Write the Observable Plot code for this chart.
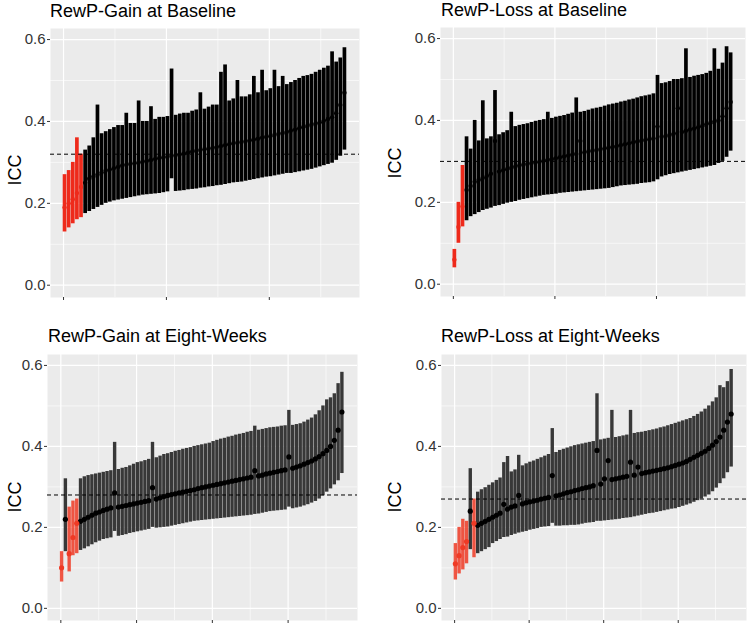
<!DOCTYPE html>
<html><head><meta charset="utf-8">
<script src="https://cdn.jsdelivr.net/npm/d3@7"></script>
<script src="https://cdn.jsdelivr.net/npm/@observablehq/plot@0.6"></script>
<style>
body{margin:0;background:#fff;font-family:"Liberation Sans",Arial,sans-serif;}
#wrap{position:relative;width:750px;height:625px;overflow:hidden;background:#fff;}
.title{position:absolute;font-size:18px;color:#000;white-space:nowrap;line-height:18px;}
.ylab{position:absolute;font-size:18px;line-height:18px;color:#000;transform:translate(-50%,-50%) rotate(-90deg);white-space:nowrap;}
.panel{position:absolute;}
</style></head><body><div id="wrap"></div>
<script>
const titles = ["RewP-Gain at Baseline","RewP-Loss at Baseline","RewP-Gain at Eight-Weeks","RewP-Loss at Eight-Weeks"];
const thresholds = [0.32, 0.30, 0.28, 0.27];
const yTicks = [0, 0.2, 0.4, 0.6];
const yMinor = [0.1, 0.3, 0.5];

const gbIcc=[0.19,0.20,0.21,0.225,0.24, 0.25,0.26,0.265,0.27,0.275, 0.28,0.283,0.286,0.289,0.292, 0.294,0.296,0.298,0.30,0.302, 0.304,0.306,0.308,0.31,0.312, 0.314,0.316,0.318,0.32,0.322, 0.324,0.326,0.328,0.33,0.332, 0.334,0.336,0.338,0.34,0.342, 0.344,0.346,0.348,0.35,0.352, 0.354,0.356,0.358,0.36,0.362, 0.364,0.367,0.37,0.372,0.375, 0.378,0.38,0.383,0.386,0.389, 0.392,0.395,0.398,0.402,0.406, 0.41,0.42,0.44,0.47];
const gbHi=[0.27,0.28,0.30,0.36,0.32, 0.33,0.34,0.36,0.44,0.37, 0.375,0.38,0.385,0.39,0.39, 0.42,0.395,0.395,0.45,0.40, 0.40,0.436,0.405,0.41,0.41, 0.412,0.528,0.415,0.418,0.42, 0.42,0.425,0.428,0.47,0.43, 0.435,0.44,0.44,0.52,0.538, 0.45,0.455,0.50,0.46,0.46, 0.465,0.51,0.47,0.525,0.475, 0.48,0.525,0.485,0.51,0.49, 0.495,0.50,0.505,0.51,0.512, 0.515,0.52,0.525,0.53,0.535, 0.57,0.545,0.555,0.58];
const gbLo=[0.13,0.14,0.15,0.16,0.165, 0.175,0.18,0.185,0.19,0.195, 0.20,0.203,0.206,0.208,0.21, 0.212,0.214,0.216,0.218,0.22, 0.221,0.222,0.223,0.224,0.226, 0.228,0.26,0.229,0.23,0.231, 0.233,0.234,0.235,0.237,0.238, 0.24,0.241,0.243,0.244,0.246, 0.248,0.25,0.251,0.252,0.254, 0.256,0.258,0.26,0.262,0.264, 0.265,0.267,0.269,0.271,0.273, 0.273,0.275,0.277,0.279,0.281, 0.283,0.286,0.289,0.292,0.295, 0.298,0.305,0.315,0.33];
const gbRed=[0,1,2,3,4];

const lbIcc=[0.06,0.14,0.19,0.23,0.24, 0.25,0.255,0.26,0.265,0.27, 0.35,0.275,0.278,0.281,0.284, 0.287,0.29,0.292,0.294,0.296, 0.298,0.30,0.302,0.304,0.306, 0.308,0.31,0.312,0.314,0.316, 0.318,0.35,0.322,0.324,0.326, 0.328,0.33,0.332,0.334,0.336, 0.338,0.34,0.342,0.344,0.346, 0.348,0.35,0.352,0.354,0.356, 0.385,0.36,0.362,0.365,0.368, 0.43,0.372,0.375,0.378,0.38, 0.383,0.386,0.39,0.393,0.397, 0.40,0.41,0.43,0.445];
const lbHi=[0.085,0.20,0.29,0.36,0.33, 0.40,0.35,0.448,0.355,0.36, 0.473,0.365,0.37,0.375,0.42, 0.385,0.388,0.39,0.392,0.395, 0.398,0.40,0.402,0.42,0.405, 0.408,0.41,0.412,0.415,0.418, 0.455,0.42,0.422,0.425,0.428, 0.43,0.432,0.435,0.438,0.44, 0.442,0.445,0.447,0.45,0.452, 0.455,0.458,0.46,0.462,0.465, 0.51,0.49,0.492,0.495,0.50, 0.50,0.502,0.575,0.505,0.508, 0.51,0.512,0.515,0.52,0.575, 0.525,0.54,0.58,0.565];
const lbLo=[0.04,0.10,0.14,0.155,0.165, 0.17,0.175,0.18,0.183,0.186, 0.19,0.192,0.195,0.198,0.20, 0.202,0.205,0.207,0.209,0.211, 0.213,0.215,0.217,0.218,0.219, 0.22,0.222,0.223,0.224,0.225, 0.226,0.227,0.228,0.229,0.23, 0.231,0.232,0.233,0.234,0.236, 0.238,0.24,0.241,0.242,0.243, 0.244,0.246,0.247,0.248,0.25, 0.255,0.262,0.265,0.268,0.27, 0.272,0.274,0.276,0.278,0.28, 0.282,0.284,0.286,0.288,0.29, 0.295,0.30,0.31,0.325];
const lbRed=[0,1,2];

const geIcc=[0.10,0.22,0.135,0.175,0.21, 0.215,0.22,0.225,0.23,0.235, 0.238,0.242,0.245,0.248,0.285, 0.25,0.252,0.254,0.256,0.258, 0.26,0.262,0.264,0.266,0.298, 0.27,0.273,0.276,0.279,0.281, 0.283,0.285,0.287,0.289,0.291, 0.293,0.296,0.298,0.30,0.302, 0.304,0.306,0.308,0.31,0.312, 0.314,0.316,0.318,0.32,0.322, 0.324,0.34,0.327,0.329,0.332, 0.334,0.336,0.338,0.34,0.342, 0.374,0.346,0.349,0.352,0.356, 0.36,0.364,0.369,0.375,0.382, 0.39,0.40,0.415,0.44,0.485];
const geHi=[0.14,0.32,0.25,0.265,0.27, 0.32,0.325,0.328,0.33,0.332, 0.334,0.336,0.338,0.34,0.41, 0.343,0.346,0.348,0.352,0.356, 0.36,0.362,0.365,0.368,0.41, 0.372,0.376,0.38,0.382,0.385, 0.388,0.39,0.393,0.395,0.397, 0.40,0.402,0.404,0.406,0.408, 0.412,0.415,0.418,0.42,0.423, 0.425,0.428,0.43,0.432,0.435, 0.437,0.45,0.44,0.442,0.444, 0.446,0.447,0.448,0.45,0.451, 0.489,0.452,0.454,0.456,0.46, 0.465,0.47,0.478,0.488,0.50, 0.515,0.52,0.53,0.555,0.583];
const geLo=[0.065,0.14,0.09,0.13,0.135, 0.143,0.147,0.152,0.157,0.162, 0.166,0.17,0.172,0.174,0.19, 0.178,0.18,0.182,0.185,0.187, 0.189,0.191,0.193,0.195,0.20, 0.198,0.199,0.20,0.201,0.203, 0.205,0.207,0.209,0.211,0.213, 0.215,0.216,0.217,0.218,0.219, 0.22,0.221,0.222,0.223,0.224, 0.225,0.226,0.227,0.228,0.229, 0.23,0.232,0.233,0.235,0.237, 0.239,0.24,0.241,0.242,0.243, 0.25,0.246,0.248,0.25,0.253, 0.256,0.26,0.264,0.27,0.278, 0.287,0.295,0.305,0.315,0.333];
const geRed=[0,2,3,4];

const leIcc=[0.11,0.13,0.15,0.165,0.24, 0.21,0.205,0.21,0.215,0.22, 0.225,0.23,0.235,0.257,0.245, 0.25,0.253,0.279,0.258,0.261, 0.263,0.265,0.267,0.27,0.272, 0.274,0.328,0.278,0.28,0.283, 0.286,0.288,0.291,0.293,0.296, 0.298,0.30,0.303,0.39,0.307, 0.32,0.365,0.318,0.32,0.322, 0.324,0.326,0.361,0.329,0.349, 0.333,0.335,0.337,0.339,0.341, 0.343,0.345,0.347,0.35,0.353, 0.356,0.359,0.363,0.368,0.373, 0.378,0.383,0.388,0.395,0.403, 0.412,0.423,0.44,0.46,0.48];
const leHi=[0.16,0.20,0.22,0.215,0.345, 0.27,0.287,0.293,0.298,0.304, 0.31,0.316,0.322,0.36,0.375, 0.337,0.342,0.378,0.352,0.357, 0.361,0.364,0.368,0.372,0.376, 0.38,0.444,0.385,0.39,0.393, 0.396,0.399,0.402,0.404,0.406, 0.408,0.41,0.412,0.53,0.416, 0.418,0.42,0.489,0.422,0.424, 0.426,0.428,0.489,0.432,0.434, 0.435,0.437,0.439,0.441,0.443, 0.446,0.448,0.451,0.454,0.457, 0.46,0.463,0.466,0.469,0.474, 0.479,0.485,0.492,0.50,0.51, 0.52,0.55,0.545,0.56,0.59];
const leLo=[0.07,0.085,0.095,0.11,0.145, 0.125,0.135,0.14,0.145,0.15, 0.16,0.165,0.17,0.175,0.176, 0.18,0.183,0.186,0.188,0.19, 0.193,0.195,0.197,0.2,0.201, 0.202,0.21,0.203,0.203,0.204, 0.204,0.205,0.205,0.206,0.208, 0.21,0.211,0.212,0.215,0.215, 0.216,0.217,0.218,0.219,0.22, 0.222,0.223,0.224,0.226,0.228, 0.23,0.232,0.234,0.235,0.237, 0.239,0.241,0.243,0.245,0.246, 0.249,0.252,0.255,0.258,0.262, 0.266,0.27,0.275,0.28,0.288, 0.297,0.308,0.32,0.335,0.349];
const leRed=[0,1,2,3,5];

const topTicks=[0,100,200], topMinor=[50,150,250];
const botTicks=[0,100,200,300], botMinor=[50,150,250,350];

// ---------- layout ----------
const panels = [
  {icc:gbIcc, lo:gbLo, hi:gbHi, red:gbRed, step:4, n:274, left:0,   top:0,   h:302, ml:50, mr:16, mt:28, mb:5, ticks:topTicks, minor:topMinor, bar:"#000", bw:3.7, redc:"#ee2a1b", redOp:1, r:2.2, tx:50,  ty:2,   lx:15,  ly:170},
  {icc:lbIcc, lo:lbLo, hi:lbHi, red:lbRed, step:4, n:274, left:375, top:0,   h:302, ml:65, mr:5,  mt:27, mb:6, ticks:topTicks, minor:topMinor, bar:"#000", bw:3.7, redc:"#ee2a1b", redOp:1, r:2.2, tx:441, ty:1,   lx:395, ly:163},
  {icc:geIcc, lo:geLo, hi:geHi, red:geRed, step:5, n:373, left:0,   top:310, h:315, ml:47, mr:18, mt:44, mb:5, ticks:botTicks, minor:botMinor, bar:"#383838", bw:3.4, redc:"#ef3a25", redOp:0.85, r:2.6, tx:48, ty:327, lx:15, ly:497},
  {icc:leIcc, lo:leLo, hi:leHi, red:leRed, step:5, n:373, left:375, top:310, h:315, ml:66, mr:4,  mt:44, mb:5, ticks:botTicks, minor:botMinor, bar:"#383838", bw:3.4, redc:"#ef3a25", redOp:0.85, r:2.6, tx:441, ty:327, lx:395, ly:497}
];

const wrap = document.getElementById("wrap");
panels.forEach((p, k) => {
  const data = p.icc.map((v, i) => ({rank: 1 + p.step * i, icc: v, lo: p.lo[i], hi: p.hi[i], red: p.red.includes(i)}));
  const blk = data.filter(d => !d.red), rd = data.filter(d => d.red);
  const pad = 0.05 * (p.n - 1);
  const plot = Plot.plot({
    width: 375, height: p.h,
    marginLeft: p.ml, marginRight: p.mr, marginTop: p.mt, marginBottom: p.mb,
    style: {background: "transparent", fontFamily: "Liberation Sans, Arial, sans-serif", overflow: "visible"},
    x: {domain: [1 - pad, p.n + pad], axis: null},
    y: {domain: [-0.03, 0.627], axis: null},
    marks: [
      Plot.frame({fill: "#EBEBEB", stroke: "none"}),
      Plot.gridY(yMinor, {stroke: "#fff", strokeOpacity: 1, strokeWidth: 0.6}),
      Plot.gridX(p.minor, {stroke: "#fff", strokeOpacity: 1, strokeWidth: 0.6}),
      Plot.gridY(yTicks, {stroke: "#fff", strokeOpacity: 1, strokeWidth: 1.2}),
      Plot.gridX(p.ticks, {stroke: "#fff", strokeOpacity: 1, strokeWidth: 1.2}),
      Plot.ruleX(blk, {x: "rank", y1: "lo", y2: "hi", stroke: p.bar, strokeWidth: p.bw}),
      Plot.ruleX(rd, {x: "rank", y1: "lo", y2: "hi", stroke: p.redc, strokeOpacity: p.redOp, strokeWidth: p.bw}),
      Plot.dot(blk, {x: "rank", y: "icc", r: p.r, fill: "#000", stroke: "none"}),
      Plot.dot(rd, {x: "rank", y: "icc", r: p.r, fill: p.redc, stroke: "none"}),
      Plot.ruleY([thresholds[k]], {stroke: "#000", strokeWidth: 1, strokeDasharray: "4,3"}),
      Plot.axisY(yTicks, {tickSize: 3, tickPadding: 2, tickFormat: d3.format(".1f"), fontSize: 15, color: "#333", label: null}),
      Plot.axisX(p.ticks, {tickSize: 3, tickFormat: () => "", color: "#333", label: null})
    ]
  });
  plot.classList.add("panel");
  plot.style.left = p.left + "px";
  plot.style.top = p.top + "px";
  wrap.appendChild(plot);

  const t = document.createElement("div");
  t.className = "title";
  t.textContent = titles[k];
  t.style.left = p.tx + "px";
  t.style.top = p.ty + "px";
  wrap.appendChild(t);

  const l = document.createElement("div");
  l.className = "ylab";
  l.textContent = "ICC";
  l.style.left = p.lx + "px";
  l.style.top = p.ly + "px";
  wrap.appendChild(l);
});
</script>
</body></html>
